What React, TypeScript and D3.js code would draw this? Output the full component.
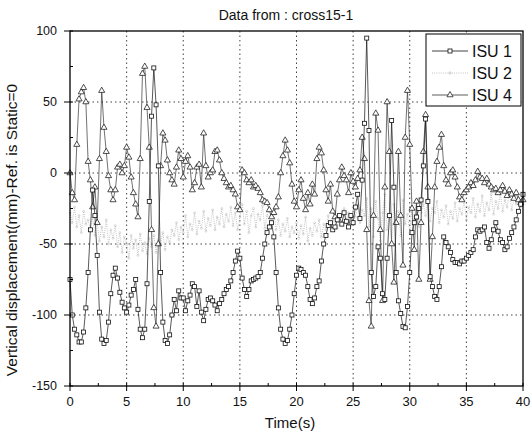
import React from "react";
import * as d3 from "d3";

// sampled every 0.2 s, 0..40 s
const timeStep = 0.2;

const isu1 = [
  -75, -100, -110, -114, -119, -119, -112, -95, -70, -40,
  -12, -30, -58, -98, -117, -120, -118, -105, -85, -72,
  -67, -74, -84, -91, -95, -98, -93, -86, -82, -75,
  -96, -110, -116, -110, -78, -20, 40, 74, 48, 5,
  -70, -105, -118, -120, -114, -100, -89, -97, -83, -88,
  -88, -97, -90, -86, -78, -80, -94, -83, -98, -104,
  -96, -89, -88, -90, -93, -97, -92, -89, -85, -82,
  -80, -76, -70, -62, -55, -60, -74, -82, -87, -82,
  -76, -75, -74, -73, -70, -60, -50, -42, -38, -35,
  -45, -70, -95, -110, -117, -120, -118, -110, -100, -85,
  -72, -67, -68, -70, -72, -80, -89, -92, -88, -80,
  -76, -62, -50, -44, -37, -35, -40, -38, -33, -30,
  -36, -28, -34, -38, -30, -35, -24, -15, -32, -5,
  35, 95, 30, -70, -87, -80, -52, -60, -85, -89,
  -60, -30, 37, -10, -70, -90, -99, -108, -109, -94,
  -70, -42, -35, -31, -25, -19, 5, 38, -20, -73,
  -80, -87, -89, -80, -66, -45, -49, -52, -56, -61,
  -63, -63, -64, -62, -62, -60, -58, -56, -54, -45,
  -40, -41, -40, -38, -49, -53, -47, -40, -35, -41,
  -47, -49, -54, -52, -46, -42, -38, -33, -27, -22,
  -15,
];

const isu2 = [
  -28, -35, -24, -38, -30, -42, -27, -36, -33, -40, -31,
  -44, -35, -48, -38, -45, -33, -50, -40, -46, -37,
  -52, -42, -56, -45, -50, -60, -44, -53, -47, -58, -43, -55, -49, -57, -46,
  -52, -44, -56, -47, -50, -42, -54, -45, -49, -40,
  -44, -35, -47, -38, -42, -30, -45, -36, -40, -28, -43, -34, -39, -27, -41,
  -32, -37, -26, -40, -31, -36, -25, -38, -29, -34,
  -24, -37, -28, -40, -31, -22, -36, -27, -42, -30, -25, -38, -29, -33, -23,
  -39, -30, -26, -35, -28,
  -40, -33, -44, -36, -41, -32, -45, -38, -42, -35,
  -46, -37, -43, -31, -48, -39, -44, -35, -41, -33, -45, -36, -40, -30, -38,
  -34, -27, -39, -30, -36, -25, -33, -28, -37, -24, -31, -22, -35, -26, -30,
  -18, -38, -25, -45, -20, -32, -48, -28, -15, -40, -30, -50, -22, -35, -27,
  -44, -19, -36, -29, -42, -24, -33, -20, -38, -28,
  -22, -30, -18, -34, -25, -28, -20, -35, -26, -31, -23, -36, -27, -32, -21,
  -34, -25, -29, -19, -33, -24, -28, -18, -31, -22, -27, -16, -30, -21, -26,
  -15, -29, -20, -25, -14, -27, -19, -24, -13, -26, -18, -22, -15, -24, -17,
];

const isu4 = [
  0, -14, -19, 20, 52, 57, 60, 50, 8, -5,
  -24, -10, -35, 10, 58, 32, 15, -2, -12, -19,
  -12, 4, 6, 0, 5, 18, 11, -3, -14, -22,
  -31, 10, 70, 75, 46, 18, -40, -95, -108, -50,
  5, 28, 23, 9, 0, -5, -8, 4, 16, 10,
  -3, 8, 12, 4, -12, -7, 4, 6, -10, 28,
  5, -3, 0, 2, 15, 16, 9, 0, -4, -7,
  -10, -9, -12, -15, -24, -26, 2, 0, -5, -7,
  -5, -10, -9, -11, -14, -19, -20, -21, -26, -31,
  -28, -24, -17, 0, 12, 23, 16, 7, -8, -20,
  -24, -12, -5, -18, -26, -14, -22, -8, -15, 10,
  18, 14, 2, -12, -20, -8, -27, -31, -15, -5,
  4, -2, -5, -14, 0, -6, -10, -4, 2, 25,
  10, -40, -90, -108, -30, 42, 30, -40, -90, -10,
  50, 15, -50, -77, -35, 15, -30, -65, 25, 58,
  20, -25, -54, -20, -75, -35, 15, 41, -10, -75,
  -45, -10, 8, 18, 27, 5, -5, -8, 0, 2,
  -3, -10, -17, -19, -14, -12, -10, -7, -9, -5,
  1, -3, -4, -7, -4, -8, -10, -12, -11, -14,
  -12, -9, -13, -16, -12, -15, -18, -14, -19, -21,
  -19,
];

const xTicks = [0, 5, 10, 15, 20, 25, 30, 35, 40];
const yTicks = [100, 50, 0, -50, -100, -150];

const font = "'Liberation Sans', Arial, Helvetica, sans-serif";

const W = 532;
const H = 442;
const left = 70;
const right = 523;
const top = 31;
const bottom = 386;

export default function App() {
  const x = d3.scaleLinear().domain([0, 40]).range([left, right]);
  const y = d3.scaleLinear().domain([-150, 100]).range([bottom, top]);

  const toPts = (vals: number[]) => vals.map((v, i) => [i * timeStep, v] as [number, number]);
  const line = d3
    .line<[number, number]>()
    .x((d) => x(d[0]))
    .y((d) => y(d[1]));

  const p1 = toPts(isu1);
  const p2 = toPts(isu2);
  const p4 = toPts(isu4);

  const tri = d3.symbol().type(d3.symbolTriangle).size(16)() as string;

  const minorX = d3.range(2.5, 40, 5);
  const minorY = d3.range(-125, 100, 50);

  const legendRows = [
    { name: "ISU 1", y: 51 },
    { name: "ISU 2", y: 73 },
    { name: "ISU 4", y: 95 },
  ];

  return (
    <svg
      width={W}
      height={H}
      style={{ position: "absolute", left: 0, top: 0, background: "#fff" }}
      fontFamily={font}
    >
      <rect width={W} height={H} fill="#fff" />

      {/* grid */}
      {xTicks.slice(1, -1).map((t) => (
        <line key={"gx" + t} x1={x(t)} x2={x(t)} y1={top} y2={bottom}
          stroke="#111" strokeWidth={0.8} strokeDasharray="1.5,3" />
      ))}
      {yTicks.slice(1, -1).map((t) => (
        <line key={"gy" + t} x1={left} x2={right} y1={y(t)} y2={y(t)}
          stroke="#111" strokeWidth={0.8} strokeDasharray="1.5,3" />
      ))}

      {/* ISU 2 */}
      <path d={line(p2) || ""} fill="none" stroke="#aaa" strokeWidth={0.7} strokeDasharray="1,1.2" />
      {p2.map((d, i) => (
        <circle key={"c" + i} cx={x(d[0])} cy={y(d[1])} r={1} fill="none" stroke="#bbb" strokeWidth={0.5} />
      ))}

      {/* ISU 4 */}
      <path d={line(p4) || ""} fill="none" stroke="#333" strokeWidth={0.7} />
      {p4.map((d, i) => (
        <path key={"t" + i} d={tri} transform={`translate(${x(d[0])},${y(d[1])})`}
          fill="#fff" stroke="#222" strokeWidth={0.8} />
      ))}

      {/* ISU 1 */}
      <path d={line(p1) || ""} fill="none" stroke="#111" strokeWidth={0.7} />
      {p1.map((d, i) => (
        <rect key={"s" + i} x={x(d[0]) - 2} y={y(d[1]) - 2} width={4} height={4}
          fill="#fff" stroke="#111" strokeWidth={0.8} />
      ))}

      {/* frame */}
      <rect x={left} y={top} width={right - left} height={bottom - top} fill="none" stroke="#000" strokeWidth={1.3} />

      {/* x ticks */}
      {xTicks.map((t) => (
        <g key={"xt" + t}>
          <line x1={x(t)} x2={x(t)} y1={bottom - 3} y2={bottom + 5} stroke="#000" strokeWidth={1} />
          <text x={x(t)} y={406} fontSize={13} textAnchor="middle" fill="#111">{t}</text>
        </g>
      ))}
      {minorX.map((t) => (
        <line key={"mx" + t} x1={x(t)} x2={x(t)} y1={bottom} y2={bottom - 3} stroke="#000" strokeWidth={1} />
      ))}

      {/* y ticks */}
      {yTicks.map((t) => (
        <g key={"yt" + t}>
          <line x1={left - 6} x2={left + 3} y1={y(t)} y2={y(t)} stroke="#000" strokeWidth={1} />
          <text x={57} y={y(t) + 4} fontSize={12.5} textAnchor="end" fill="#111">
            {t < 0 ? "-" + Math.abs(t) : t}
          </text>
        </g>
      ))}
      {minorY.map((t) => (
        <line key={"my" + t} x1={left} x2={left + 3} y1={y(t)} y2={y(t)} stroke="#000" strokeWidth={1} />
      ))}

      {/* titles */}
      <text x={286} y={20} fontSize={14} textAnchor="middle" fill="#111">Data from : cross15-1</text>
      <text x={290} y={428} fontSize={15} textAnchor="middle" fill="#111">Time(s)</text>
      <text transform="translate(17,230) rotate(-90)" fontSize={15.5} textAnchor="middle" fill="#111">
        Vertical displacement(mm)-Ref. is Static=0
      </text>

      {/* legend */}
      <rect x={426} y={34} width={95} height={72} fill="#fff" stroke="#000" strokeWidth={1} />
      {legendRows.map((r, i) => (
        <g key={r.name}>
          {i === 0 && (
            <>
              <line x1={432} x2={468} y1={r.y} y2={r.y} stroke="#111" strokeWidth={0.8} />
              <rect x={448} y={r.y - 2} width={4} height={4} fill="#fff" stroke="#111" strokeWidth={0.8} />
            </>
          )}
          {i === 1 && (
            <>
              <line x1={432} x2={468} y1={r.y} y2={r.y} stroke="#aaa" strokeWidth={0.7} strokeDasharray="1,1.2" />
              <circle cx={450} cy={r.y} r={1.2} fill="none" stroke="#bbb" strokeWidth={0.6} />
            </>
          )}
          {i === 2 && (
            <>
              <line x1={432} x2={468} y1={r.y} y2={r.y} stroke="#333" strokeWidth={0.8} />
              <path d={tri} transform={`translate(450,${r.y})`} fill="#fff" stroke="#222" strokeWidth={0.8} />
            </>
          )}
          <text x={472} y={r.y + 6} fontSize={16} fill="#111">{r.name}</text>
        </g>
      ))}
    </svg>
  );
}
